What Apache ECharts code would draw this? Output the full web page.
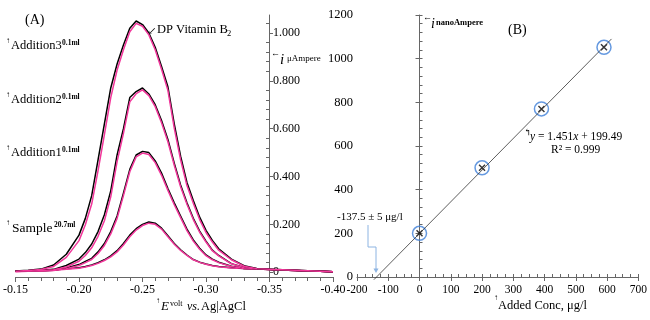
<!DOCTYPE html>
<html>
<head>
<meta charset="utf-8">
<script src="https://cdn.jsdelivr.net/npm/echarts@6/dist/echarts.min.js"></script>
<style>
html,body{margin:0;padding:0;background:#fff;}
#main{width:650px;height:320px;}
</style>
</head>
<body>
<div id="main"></div>
<script>
// (A) DP voltammograms, potential in V vs Ag|AgCl
var potential = [-0.150,-0.160,-0.170,-0.180,-0.190,-0.200,-0.205,-0.210,-0.215,-0.220,-0.225,-0.230,-0.235,-0.240,-0.245,-0.250,-0.255,-0.260,-0.265,-0.270,-0.275,-0.280,-0.285,-0.290,-0.295,-0.300,-0.305,-0.310,-0.320,-0.330,-0.340,-0.350,-0.360,-0.370,-0.380,-0.390,-0.400];
// current in microampere, black = recorded, pink = second trace
var add3Black  = [0.005,0.008,0.013,0.030,0.075,0.155,0.225,0.320,0.470,0.620,0.770,0.870,0.950,1.020,1.050,1.035,1.000,0.940,0.860,0.775,0.620,0.485,0.375,0.300,0.230,0.175,0.133,0.098,0.055,0.027,0.016,0.012,0.010,0.008,0.006,0.004,0.002];
var add3Pink   = [0.004,0.007,0.011,0.024,0.062,0.132,0.198,0.285,0.425,0.575,0.730,0.845,0.930,1.005,1.040,1.028,0.992,0.930,0.848,0.760,0.602,0.470,0.362,0.288,0.220,0.166,0.126,0.092,0.052,0.025,0.015,0.012,0.010,0.008,0.006,0.004,0.002];
var add2Black  = [0.004,0.006,0.008,0.012,0.028,0.055,0.082,0.118,0.170,0.240,0.340,0.490,0.600,0.730,0.755,0.770,0.745,0.700,0.634,0.555,0.456,0.365,0.290,0.225,0.172,0.130,0.092,0.070,0.036,0.020,0.014,0.011,0.009,0.007,0.005,0.004,0.002];
var add2Pink   = [0.003,0.005,0.007,0.010,0.022,0.046,0.070,0.102,0.150,0.215,0.315,0.462,0.580,0.712,0.746,0.762,0.738,0.692,0.625,0.545,0.447,0.357,0.284,0.220,0.167,0.126,0.090,0.068,0.035,0.019,0.014,0.011,0.009,0.007,0.005,0.004,0.002];
var add1Black  = [0.004,0.005,0.006,0.008,0.018,0.032,0.045,0.058,0.085,0.120,0.170,0.235,0.330,0.430,0.490,0.505,0.500,0.465,0.414,0.350,0.290,0.235,0.180,0.135,0.100,0.072,0.055,0.042,0.025,0.016,0.013,0.011,0.009,0.007,0.005,0.004,0.002];
var add1Pink   = [0.003,0.004,0.005,0.007,0.015,0.028,0.040,0.053,0.078,0.112,0.160,0.225,0.320,0.420,0.482,0.498,0.492,0.458,0.405,0.342,0.282,0.228,0.174,0.130,0.096,0.069,0.052,0.040,0.024,0.016,0.013,0.011,0.009,0.007,0.005,0.004,0.002];
var sampleBlack= [0.004,0.005,0.006,0.009,0.014,0.019,0.024,0.030,0.040,0.052,0.068,0.090,0.120,0.155,0.182,0.200,0.210,0.205,0.184,0.152,0.120,0.094,0.072,0.053,0.042,0.034,0.028,0.024,0.019,0.016,0.014,0.012,0.010,0.008,0.006,0.004,0.002];
var samplePink = [0.003,0.004,0.005,0.008,0.012,0.017,0.022,0.028,0.037,0.049,0.064,0.085,0.114,0.148,0.176,0.195,0.205,0.200,0.180,0.148,0.117,0.091,0.070,0.052,0.041,0.033,0.027,0.023,0.018,0.015,0.013,0.011,0.009,0.007,0.005,0.004,0.002];
var yTicksA = [0, 0.2, 0.4, 0.6, 0.8, 1.0];

// (B) standard addition plot
var addedConc = [0, 200, 390, 590];
var currentNA = [200, 500, 770, 1052];
var fitSlope = 1.451, fitIntercept = 199.49;
var fitRange = [-146, 614];

var SERIF = '"Liberation Serif", "DejaVu Serif", serif';
var AXC = '#666';

// minor tick positions on the (A) current axis, 5 per major step
var minorA = [];
for (var k = 1; k * 0.04 < 1.075; k++) {
	if (k % 5 !== 0) minorA.push(+(k * 0.04).toFixed(2));
}

function pairs(arr) {
	return potential.map(function (e, i) { return [e, arr[i]]; });
}
function curve(name, arr, color) {
	return {
		name: name, type: 'line', xAxisIndex: 0, yAxisIndex: 0,
		data: pairs(arr), showSymbol: false, symbol: 'none', clip: false,
		lineStyle: {color: color, width: 1.5}, silent: true
	};
}
function txt(x, y, s, font, opt) {
	var st = {text: s, font: font, fill: '#000', verticalAlign: 'middle', align: 'left'};
	for (var p in (opt || {})) st[p] = opt[p];
	return {type: 'text', x: x, y: y, style: st, silent: true};
}

var chart = echarts.init(document.getElementById('main'));
chart.setOption({
	animation: false,
	grid: [
		{left: 13, right: 317, top: 15, bottom: 43},
		{left: 357, right: 8, top: 15, bottom: 43}
	],
	xAxis: [
		{
			gridIndex: 0, type: 'value', min: -0.40, max: -0.15, interval: 0.05, inverse: true, position: 'bottom',
			axisLine: {onZero: false, lineStyle: {color: AXC}},
			axisTick: {length: 5, lineStyle: {color: AXC}},
			minorTick: {show: true, splitNumber: 5, length: 4, lineStyle: {color: AXC}},
			axisLabel: {formatter: function (v) { return v.toFixed(2); }, fontFamily: SERIF, fontSize: 12, color: '#000', margin: 7},
			splitLine: {show: false}
		},
		{
			gridIndex: 1, type: 'value', min: -200, max: 700, interval: 100, position: 'bottom',
			axisLine: {onZero: true, lineStyle: {color: AXC}},
			axisTick: {length: 4, lineStyle: {color: AXC}},
			axisLabel: {fontFamily: SERIF, fontSize: 11.5, color: '#000', margin: 7},
			splitLine: {show: false}
		},
		{
			gridIndex: 1, type: 'value', min: -200, max: 700, interval: 25, position: 'bottom',
			axisLine: {show: false, onZero: true},
			axisTick: {show: true, inside: true, length: 3, lineStyle: {color: AXC}},
			axisLabel: {show: false}, splitLine: {show: false}
		}
	],
	yAxis: [
		{
			gridIndex: 0, type: 'value', min: -0.02, max: 1.075, position: 'right', offset: -64,
			axisLine: {show: true, onZero: false, lineStyle: {color: AXC}},
			axisTick: {show: true, length: 4, customValues: yTicksA, lineStyle: {color: AXC}},
			axisLabel: {customValues: yTicksA, margin: 4, fontFamily: SERIF, fontSize: 12, color: '#000',
				formatter: function (v) { return v === 0 ? '0' : v.toFixed(3); }},
			splitLine: {show: false}
		},
		{
			gridIndex: 0, type: 'value', min: -0.02, max: 1.075, position: 'right', offset: -64,
			axisLine: {show: false, onZero: false},
			axisTick: {show: true, inside: true, length: 3, customValues: minorA, lineStyle: {color: AXC}},
			axisLabel: {show: false}, splitLine: {show: false}
		},
		{
			gridIndex: 1, type: 'value', min: 0, max: 1200, interval: 200, position: 'left',
			axisLine: {show: true, onZero: true, lineStyle: {color: AXC}},
			axisTick: {show: true, length: 4, lineStyle: {color: AXC}},
			axisLabel: {fontFamily: SERIF, fontSize: 12.5, color: '#000', margin: 4,
				formatter: function (v) { return String(v); }},
			splitLine: {show: false}
		},
		{
			gridIndex: 1, type: 'value', min: 0, max: 1200, interval: 40, position: 'left',
			axisLine: {show: false, onZero: true},
			axisTick: {show: true, inside: true, length: 3, lineStyle: {color: AXC}},
			axisLabel: {show: false}, splitLine: {show: false}
		}
	],
	series: [
		curve('Sample', sampleBlack, '#000'),
		curve('Sample pink', samplePink, '#f2379b'),
		curve('Addition1', add1Black, '#000'),
		curve('Addition1 pink', add1Pink, '#f2379b'),
		curve('Addition2', add2Black, '#000'),
		curve('Addition2 pink', add2Pink, '#f2379b'),
		curve('Addition3', add3Black, '#000'),
		curve('Addition3 pink', add3Pink, '#f2379b'),
		{
			name: 'fit', type: 'line', xAxisIndex: 1, yAxisIndex: 2, clip: false, symbol: 'none',
			data: fitRange.map(function (x) { return [x, fitSlope * x + fitIntercept]; }),
			lineStyle: {color: '#333', width: 0.8}, silent: true
		},
		{
			name: 'circles', type: 'scatter', xAxisIndex: 1, yAxisIndex: 2, symbol: 'circle', symbolSize: 14,
			data: addedConc.map(function (x, i) { return [x, currentNA[i]]; }),
			itemStyle: {color: 'rgba(0,0,0,0)', borderColor: '#3f7fd8', borderWidth: 1.5}, silent: true
		},
		{
			name: 'cross', type: 'scatter', xAxisIndex: 1, yAxisIndex: 2, symbol: 'path://M0,0L10,10M10,0L0,10', symbolSize: 6,
			data: addedConc.map(function (x, i) { return [x, currentNA[i]]; }),
			itemStyle: {color: 'rgba(0,0,0,0)', borderColor: '#000', borderWidth: 1.4}, silent: true
		}
	],
	graphic: [
		// panel (A)
		txt(25, 20, '(A)', '14px ' + SERIF),
		txt(148, 31, '\u2199', '10px ' + SERIF),
		txt(157, 30, 'DP Vitamin B', '12.5px ' + SERIF),
		txt(227, 34, '2', '8.5px ' + SERIF),
		txt(6, 41, '\u2191', '8px ' + SERIF),
		txt(11, 46, 'Addition3', '12.5px ' + SERIF),
		txt(62, 43, '0.1ml', 'bold 7.5px ' + SERIF),
		txt(6, 95, '\u2191', '8px ' + SERIF),
		txt(11, 100, 'Addition2', '12.5px ' + SERIF),
		txt(62, 97, '0.1ml', 'bold 7.5px ' + SERIF),
		txt(6, 148, '\u2191', '8px ' + SERIF),
		txt(11, 153, 'Addition1', '12.5px ' + SERIF),
		txt(62, 150, '0.1ml', 'bold 7.5px ' + SERIF),
		txt(6, 223, '\u2191', '8px ' + SERIF),
		txt(12, 228, 'Sample', '13.5px ' + SERIF),
		txt(54, 225, '20.7ml', 'bold 7.5px ' + SERIF),
		txt(271, 54, '\u2190', '9px ' + SERIF),
		txt(280, 60, 'i', 'italic 15px ' + SERIF),
		txt(287, 59, '\u03bcAmpere', '9px ' + SERIF),
		txt(156, 301, '\u2191', '8px ' + SERIF),
		txt(161, 307, 'E', 'italic 13px ' + SERIF),
		txt(170, 304, 'volt', '8px ' + SERIF),
		txt(187, 307, 'vs.', 'italic 12px ' + SERIF),
		txt(201, 307, 'Ag|AgCl', '12.5px ' + SERIF),
		// panel (B)
		txt(423, 18, '\u2190', '9px ' + SERIF),
		txt(431, 24, 'i', 'italic 14px ' + SERIF),
		txt(436, 23, 'nanoAmpere', 'bold 8.5px ' + SERIF),
		txt(508, 30, '(B)', '14px ' + SERIF),
		txt(524, 133, '\u21b0', '9px ' + SERIF),
		txt(530, 137, '', '11.5px ' + SERIF, {
			text: '{i|y} = 1.451{i|x} + 199.49',
			rich: {i: {font: 'italic 11.5px ' + SERIF}}
		}),
		txt(551, 150, 'R\u00b2 = 0.999', '11.5px ' + SERIF),
		txt(337, 217, '-137.5 \u00b1 5 \u03bcg/l', '11px ' + SERIF),
		{
			type: 'polyline', silent: true,
			shape: {points: [[368, 225], [368, 247], [376, 247], [376, 270]]},
			style: {stroke: '#8db4e2', lineWidth: 1, fill: null}
		},
		{
			type: 'polygon', silent: true,
			shape: {points: [[373.5, 268.5], [378.5, 268.5], [376, 273]]},
			style: {fill: '#8db4e2'}
		},
		txt(494, 298, '\u2191', '8px ' + SERIF),
		txt(498, 306, 'Added Conc, \u03bcg/l', '12.5px ' + SERIF)
	]
});
</script>
</body>
</html>
